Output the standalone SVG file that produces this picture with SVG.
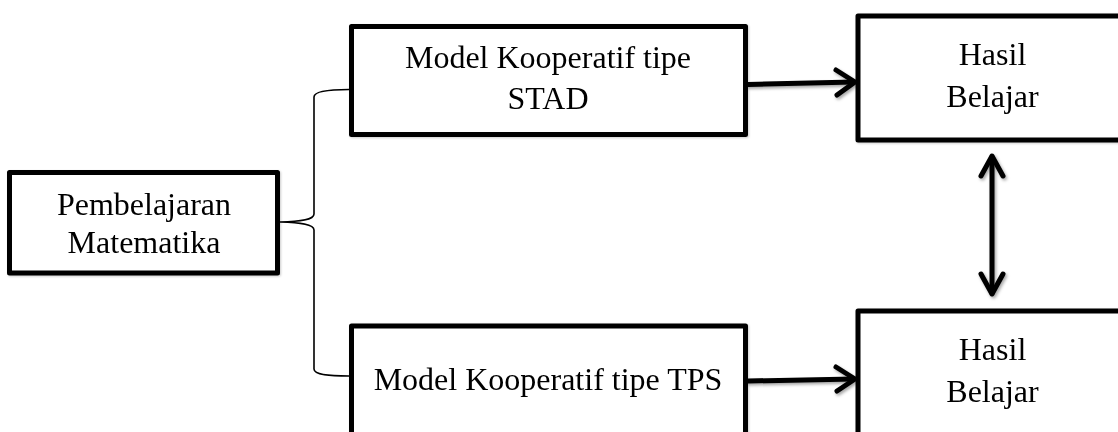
<svg xmlns="http://www.w3.org/2000/svg" width="1118" height="432" viewBox="0 0 1118 432">
  <style>
    .box { fill: #ffffff; stroke: #000000; stroke-width: 5; stroke-linejoin: round; }
    .label { font-family: "Liberation Serif", "Times New Roman", serif; font-size: 32px; fill: #000000; text-anchor: middle; }
    .brace { fill: none; stroke: #000000; stroke-width: 1.6; }
    .arrow { fill: none; stroke: #000000; stroke-width: 5; stroke-linecap: round; stroke-linejoin: round; }
  </style>
  <defs>
    <filter id="shade" x="-20%" y="-50%" width="140%" height="200%">
      <feDropShadow dx="1.5" dy="2" stdDeviation="1.5" flood-color="#000000" flood-opacity="0.35"/>
    </filter>
    <filter id="boxshade" x="-5%" y="-5%" width="110%" height="110%">
      <feDropShadow dx="1" dy="1" stdDeviation="0.8" flood-color="#000000" flood-opacity="0.2"/>
    </filter>
  </defs>
  <rect width="1118" height="432" fill="#ffffff"/>

  <!-- connectors -->
  <g id="connectors">
    <!-- brace splitting the source into two models -->
    <path class="brace" d="M 349 89.5 C 330 89.5 314 91 314 97 L 314 214 C 314 220 300 221.5 280 222 C 300 222.5 314 224 314 230 L 314 369 C 314 375 330 376 349 376"/>
    <g filter="url(#shade)">
      <path class="arrow" d="M 748 84.5 L 854 82"/>
      <path class="arrow" d="M 836 70 L 855 82 L 837 95"/>
      <path class="arrow" d="M 748 381 L 854 379"/>
      <path class="arrow" d="M 836 367 L 855 379 L 837 391"/>
      <path class="arrow" d="M 992 157 L 992 293"/>
      <path class="arrow" d="M 981 176 L 992 156 L 1003 176"/>
      <path class="arrow" d="M 981 274 L 992 294 L 1003 274"/>
    </g>
  </g>

  <g id="pembelajaran" filter="url(#boxshade)">
    <rect class="box" x="9.5" y="172.5" width="268" height="100.5"/>
    <text class="label" x="144" y="215">Pembelajaran</text>
    <text class="label" x="144" y="252.5">Matematika</text>
  </g>

  <g id="stad" filter="url(#boxshade)">
    <rect class="box" x="351.5" y="26.5" width="394" height="108"/>
    <text class="label" x="548" y="67.5">Model Kooperatif tipe</text>
    <text class="label" x="548" y="109">STAD</text>
  </g>

  <g id="tps" filter="url(#boxshade)">
    <rect class="box" x="351.5" y="326" width="394" height="130"/>
    <text class="label" x="548" y="390">Model Kooperatif tipe TPS</text>
  </g>

  <g id="hasil-stad" filter="url(#boxshade)">
    <rect class="box" x="858" y="16" width="272" height="124"/>
    <text class="label" x="992.5" y="65">Hasil</text>
    <text class="label" x="992.5" y="107">Belajar</text>
  </g>

  <g id="hasil-tps" filter="url(#boxshade)">
    <rect class="box" x="858" y="311" width="272" height="140"/>
    <text class="label" x="992.5" y="360">Hasil</text>
    <text class="label" x="992.5" y="401.5">Belajar</text>
  </g>
</svg>
